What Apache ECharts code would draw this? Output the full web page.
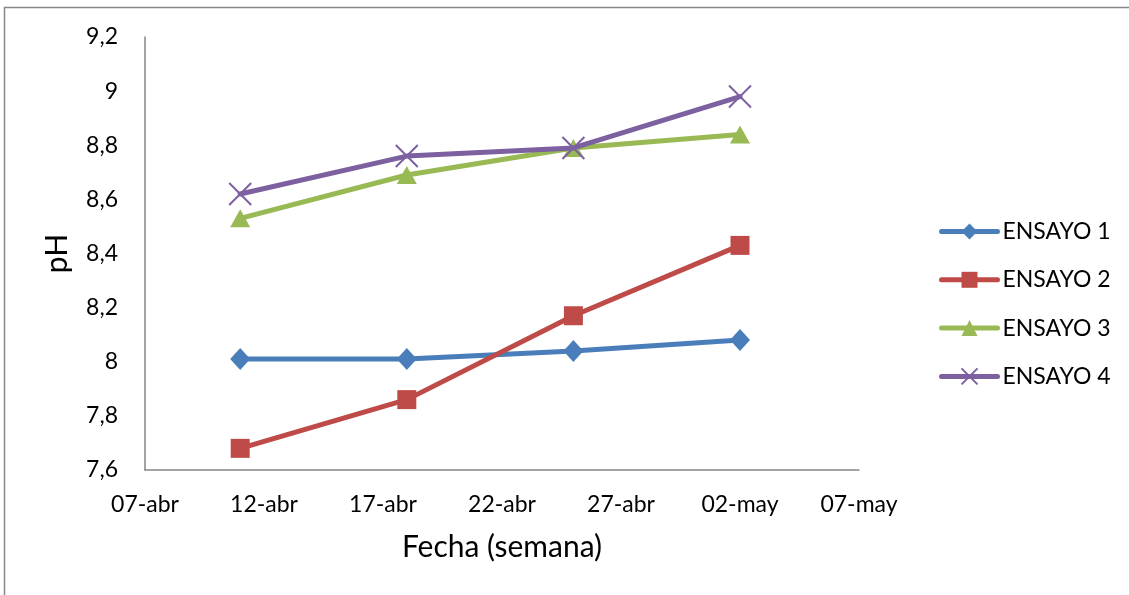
<!DOCTYPE html>
<html>
<head>
<meta charset="utf-8">
<script src="https://cdn.jsdelivr.net/npm/echarts@6/dist/echarts.min.js"></script>
<style>
  html, body { margin: 0; padding: 0; background: #fff; }
  #chart { width: 1129px; height: 595px; }
</style>
</head>
<body>
<div id="chart"></div>
<script>
// fechas de muestreo (semanal)
const fechas = ["2013-04-11", "2013-04-18", "2013-04-25", "2013-05-02"]
const ensayo1 = [8.01, 8.01, 8.04, 8.08]
const ensayo2 = [7.68, 7.86, 8.17, 8.43]
const ensayo3 = [8.53, 8.69, 8.79, 8.84]
const ensayo4 = [8.62, 8.76, 8.79, 8.98]
const nombres = ["ENSAYO 1", "ENSAYO 2", "ENSAYO 3", "ENSAYO 4"]
const meses = ["ene", "feb", "mar", "abr", "may", "jun", "jul", "ago", "sep", "oct", "nov", "dic"]

// eje x en días desde el 07-abr
const fechaBase = Date.UTC(2013, 3, 7)
const DIA = 86400000
const dias = (s) => (Date.parse(s + "T00:00:00Z") - fechaBase) / DIA
const toPairs = (vals) => fechas.map((f, i) => [dias(f), vals[i]])

const fuente = "Lato, 'Open Sans', sans-serif"
const colores = ["#4A7EBB", "#BE4B48", "#98B954", "#7D60A0"]
const simbolos = [
  "diamond",
  "rect",
  "triangle",
  "path://M0,0 L10,10 M10,0 L0,10"
]
const tamanos = [[20, 22], 19, [20, 18], 22]
const valores = [ensayo1, ensayo2, ensayo3, ensayo4]

const chart = echarts.init(document.getElementById("chart"))

const option = {
  animation: false,
  textStyle: { fontFamily: fuente },
  graphic: [
    {
      type: "rect",
      shape: { x: 4.5, y: 7.5, width: 1140, height: 620 },
      style: { fill: "none", stroke: "#868686", lineWidth: 1.5 },
      silent: true
    }
  ],
  legend: {
    orient: "vertical",
    left: 934,
    top: 215,
    itemWidth: 56,
    itemHeight: 20,
    itemGap: 25.3,
    lineStyle: { width: 5, cap: "round" },
    textStyle: { fontSize: 23, color: "#000", fontFamily: fuente },
    data: nombres
  },
  grid: {
    left: 145,
    top: 37,
    right: 270,
    bottom: 125,
    containLabel: false
  },
  xAxis: {
    type: "value",
    min: 0,
    max: 30,
    interval: 5,
    name: "Fecha (semana)",
    nameLocation: "middle",
    nameGap: 62,
    nameTextStyle: { fontSize: 30, color: "#000", fontFamily: fuente },
    axisLine: { lineStyle: { color: "#868686", width: 1.5 } },
    axisTick: { show: false },
    splitLine: { show: false },
    axisLabel: {
      margin: 23,
      fontSize: 23,
      color: "#000",
      fontFamily: fuente,
      formatter: (v) => {
        const d = new Date(fechaBase + v * DIA)
        return String(d.getUTCDate()).padStart(2, "0") + "-" + meses[d.getUTCMonth()]
      }
    }
  },
  yAxis: {
    type: "value",
    min: 7.6,
    max: 9.2,
    interval: 0.2,
    name: "pH",
    nameLocation: "middle",
    nameGap: 73,
    nameTextStyle: { fontSize: 30, color: "#000", fontFamily: fuente },
    axisLine: { show: true, lineStyle: { color: "#868686", width: 1.5 } },
    axisTick: { show: false },
    splitLine: { show: false },
    axisLabel: {
      margin: 27,
      fontSize: 23,
      color: "#000",
      fontFamily: fuente,
      formatter: (v) => String(Number(v.toFixed(1))).replace(".", ",")
    }
  },
  series: nombres.map((n, i) => ({
    name: n,
    type: "line",
    data: toPairs(valores[i]),
    symbol: simbolos[i],
    symbolSize: tamanos[i],
    showAllSymbol: true,
    lineStyle: { width: 5, color: colores[i], cap: "round" },
    itemStyle: i === 3
      ? { color: colores[i], borderColor: colores[i], borderWidth: 2 }
      : { color: colores[i], borderWidth: 0 },
    z: 2 + i
  }))
}

chart.setOption(option)

window.addEventListener("resize", () => {
  chart.resize()
})
</script>
</body>
</html>
